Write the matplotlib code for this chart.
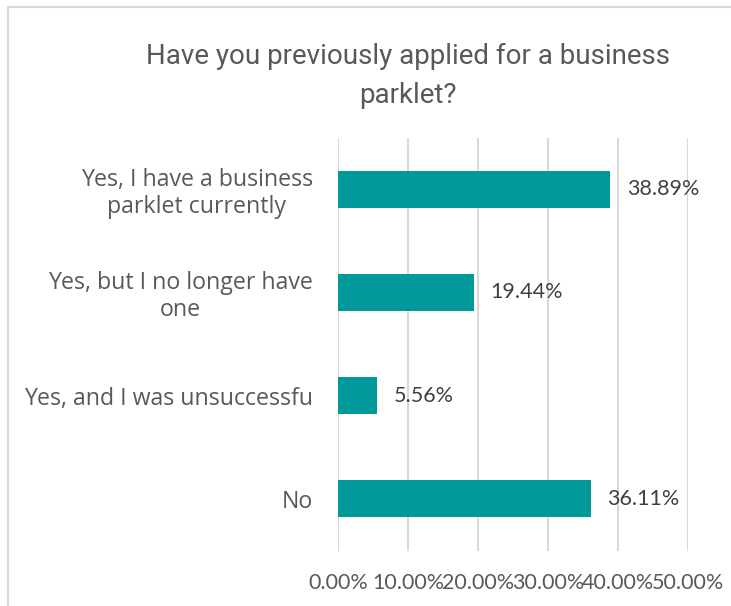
import matplotlib
matplotlib.use("Agg")
import matplotlib.pyplot as plt
from matplotlib.lines import Line2D
import numpy as np

categories = ["Yes, I have a business\nparklet currently",
              "Yes, but I no longer have\none",
              "Yes, and I was unsuccessfu",
              "No"]
values = [38.89, 19.44, 5.56, 36.11]
value_labels = ["38.89%", "19.44%", "5.56%", "36.11%"]
xticks = [0, 10, 20, 30, 40, 50]
xtick_labels = ["0.00%", "10.00%", "20.00%", "30.00%", "40.00%", "50.00%"]
title = "Have you previously applied for a business\nparklet?"

W, H = 731, 606
fig = plt.figure(figsize=(W/100, H/100), dpi=100)
ax = fig.add_axes([338/W, 1-550.5/H, 350/W, 413/H])

y = np.arange(len(categories))
ax.barh(y, values, height=0.36, color="#009999", zorder=3)
ax.set_ylim(len(categories)-0.5, -0.5)
ax.set_xlim(0, 50)
ax.set_xticks(xticks)
ax.set_xticklabels(xtick_labels, fontsize=15.5, color="#595959", family=["Lato", "DejaVu Sans"])
ax.set_yticks(y)
ax.set_yticklabels(categories, fontsize=16.7, color="#595959", family=["Open Sans", "DejaVu Sans"],
                   multialignment="center", linespacing=1.15)
ax.tick_params(axis="x", length=0, pad=16)
ax.tick_params(axis="y", length=0, pad=18)
for s in ax.spines.values():
    s.set_visible(False)
ax.grid(axis="x", color="#d9d9d9", linewidth=1.5, zorder=0)
ax.grid(axis="y", visible=False)

for yi, v, lab in zip(y, values, value_labels):
    ax.annotate(lab, (v, yi), xytext=(12, 0), textcoords="offset points",
                va="center", ha="left", fontsize=15.5, color="#404040",
                family=["Lato", "DejaVu Sans"])

fig.text(0.5*(140+675)/W, 1-76/H, title, ha="center", va="center",
         fontsize=20, color="#595959", linespacing=1.6,
         family=["Roboto", "DejaVu Sans"])

fig.add_artist(Line2D([8/W, 8/W], [0, 1-7/H], color="#d9d9d9", linewidth=1.5, transform=fig.transFigure))
fig.add_artist(Line2D([8/W, 1], [1-7/H, 1-7/H], color="#d9d9d9", linewidth=1.5, transform=fig.transFigure))

fig.savefig("out.png", dpi=100)
